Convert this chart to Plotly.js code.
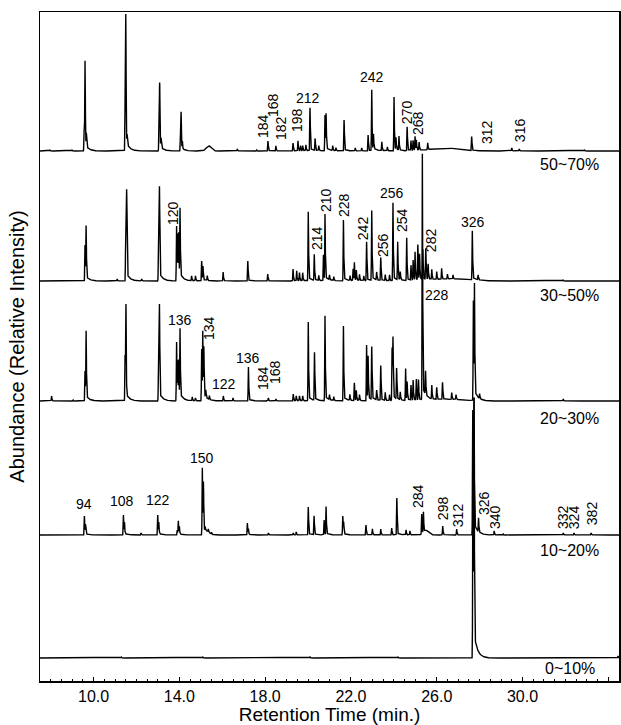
<!DOCTYPE html>
<html><head><meta charset="utf-8">
<script src="https://cdn.plot.ly/plotly-3.0.1.min.js"></script>
<style>html,body{margin:0;padding:0;background:#fff}#chart{width:621px;height:725px}</style>
</head><body><div id="chart"></div>
<script>
// ---- Peak data (retention time, min / relative intensity) ----
// Trace 1 (top)
const p1Time = [7.97, 9.0, 9.56, 9.6, 9.66, 11.47, 11.5, 11.56, 13.05, 13.08, 13.14, 14.05, 14.08, 14.14, 16.7, 17.6, 18.13, 18.5, 19.3, 19.53, 19.65, 19.75, 19.9, 20.09, 20.33, 20.5, 20.79, 20.84, 21.15, 21.3, 21.68, 22.2, 22.5, 22.8, 22.97, 23.05, 23.44, 23.7, 24.01, 24.1, 24.24, 24.62, 24.8, 24.9, 24.99, 25.05, 25.18, 25.58, 27.63, 29.5, 29.85, 32.9];
const p1Height = [1, 1, 20, 89, 14, 49, 130, 10, 25, 65, 10, 15, 37, 8, 2, 1, 10, 5, 8, 10, 5, 5, 6, 43, 12, 5, 36, 36, 5, 3, 31, 3, 3, 16, 61, 15, 9, 4, 54, 12, 14, 24, 10, 10, 14, 10, 8, 7, 14, 3, 2, 1];
const p1HumpTime = [15.38, 26.4];
const p1HumpHeight = [5, 3];
const p1HumpWidth = [0.12, 0.6];
// Trace 2 (50~70%)
const p2Time = [9.6, 9.65, 11.1, 11.5, 11.54, 12.24, 13.03, 13.07, 13.87, 13.92, 13.97, 14.03, 14.57, 14.75, 15.04, 15.1, 15.3, 16.04, 17.19, 18.12, 19.3, 19.47, 19.6, 19.75, 20.01, 20.29, 20.5, 20.72, 20.79, 21.0, 21.2, 21.65, 21.96, 22.1, 22.16, 22.25, 22.4, 22.6, 22.73, 22.97, 23.2, 23.39, 23.6, 23.8, 23.96, 24.18, 24.3, 24.6, 24.8, 24.9, 24.99, 25.12, 25.2, 25.35, 25.49, 25.6, 25.77, 26.0, 26.23, 26.5, 26.76, 27.66, 27.93, 31.9];
const p2Height = [36, 54, 2, 60, 88, 2, 60, 91, 55, 45, 45, 69, 5, 5, 20, 14, 5, 9, 20, 7, 12, 10, 8, 8, 69, 26, 5, 26, 66, 5, 4, 61, 5, 12, 18, 10, 6, 5, 39, 70, 8, 23, 6, 6, 78, 38, 8, 43, 15, 20, 28, 35, 25, 30, 31, 15, 10, 8, 11, 5, 4, 49, 5, 1];
const p2HumpTime = [26.8];
const p2HumpHeight = [2];
const p2HumpWidth = [0.8];
// Trace 3 (30~50%)
const p3Time = [8.04, 9.04, 9.6, 9.65, 11.47, 11.51, 13.03, 13.07, 13.87, 13.92, 13.97, 14.03, 14.6, 14.75, 15.04, 15.09, 15.14, 15.23, 15.4, 16.05, 16.5, 17.22, 18.15, 18.5, 19.31, 19.45, 19.6, 19.75, 20.01, 20.3, 20.79, 21.0, 21.2, 21.65, 21.95, 22.16, 22.25, 22.4, 22.73, 22.8, 22.97, 23.2, 23.39, 23.6, 23.8, 23.92, 23.96, 24.13, 24.3, 24.55, 24.62, 24.8, 24.9, 25.05, 25.15, 25.33, 25.48, 25.77, 26.0, 26.27, 26.7, 26.9, 27.71, 27.76, 28.0, 31.9];
const p3Height = [5, 1, 30, 69, 50, 94, 50, 94, 59, 38, 38, 69, 4, 3, 52, 68, 50, 7, 4, 5, 3, 34, 3, 2, 7, 5, 5, 5, 79, 48, 85, 5, 4, 75, 6, 18, 10, 6, 56, 43, 53, 10, 35, 8, 6, 53, 61, 31, 8, 32, 18, 15, 20, 21, 20, 246, 24, 14, 12, 17, 7, 5, 100, 113, 5, 2];
const p3HumpTime = [26.5];
const p3HumpHeight = [1.5];
const p3HumpWidth = [0.8];
// Trace 4 (20~30%)
const p4Time = [9.57, 9.62, 11.39, 11.44, 12.21, 12.99, 13.04, 13.9, 13.95, 14.0, 15.07, 15.12, 15.2, 15.35, 15.5, 17.17, 17.22, 18.15, 19.31, 19.45, 20.01, 20.28, 20.75, 20.84, 21.62, 21.66, 22.7, 23.0, 23.39, 23.9, 24.14, 24.57, 24.75, 25.3, 25.38, 26.28, 26.93, 27.68, 27.74, 27.95, 28.68, 29.1, 31.9, 32.4, 33.2];
const p4Height = [19, 10, 20, 12, 2, 20, 12, 5, 14, 8, 67, 50, 4, 3, 2, 12, 6, 2, 2, 3, 28, 19, 15, 28, 19, 12, 10, 6, 6, 7, 37, 5, 4, 20, 20, 9, 6, 125, 132, 14, 4, 1, 2, 2, 2];
const p4HumpTime = [25.5, 15.3];
const p4HumpHeight = [4, 2];
const p4HumpWidth = [0.12, 0.1];
// Trace 5 (10~20%)
const p5Time = [11.3, 15.1, 20.1, 24.2, 27.69, 27.74, 34.45];
const p5Height = [1, 1, 1, 1, 240, 250, 2];
const p5HumpTime = [];
const p5HumpHeight = [];
const p5HumpWidth = [];

// Fraction labels
const fractionLabels = ['50~70%', '30~50%', '20~30%', '10~20%', '0~10%'];
// Peak (m/z) labels
const peakLabelText = ['184','168','182','198','212','242','270','268','312','316',
  '120','214','210','228','242','256','256','254','282','326',
  '136','134','122','136','184','168','228',
  '94','108','122','150','284','298','312','326','340','332','324','382'];
const peakLabelTime = [17.9,18.37,18.74,19.49,20.0,22.99,24.62,25.13,28.35,29.89,
  13.7,20.42,20.84,21.68,22.57,23.5,23.92,24.38,25.74,27.7,
  14.03,15.38,16.08,17.2,17.9,18.46,26.0,
  9.55,11.32,13.0,15.06,25.13,26.3,27.0,28.21,28.72,31.89,32.41,33.25];
const peakLabelLevel = [555,576,553,561,583,604,569,558,549,551,
  468,443,481,476,453,436,488,461,441,459,
  361,353,297,323,303,309,386,
  177,180,181,223,185,173,166,178,164,164,164,168];
const peakLabelVertical = [1,1,1,1,0,0,1,1,1,1,
  1,1,1,1,1,1,0,1,1,0,
  0,1,0,0,1,1,0,
  0,0,0,0,1,1,1,1,1,1,1,1];

// ---- layout constants (stack offsets, not data) ----
const offsets = [530, 400, 280, 146, 23];
const fractionLabelLevel = [517, 386, 263, 131, 13];
const FONT = 'Liberation Sans, Arial, sans-serif';
const X0 = 7.5, X1 = 34.5;

function buildTrace(times, heights, hT, hH, hW, base) {
  const step = 0.005;
  const xsSet = [];
  for (let t = X0; t <= X1 + 1e-9; t += step) xsSet.push(+t.toFixed(4));
  times.forEach(t => xsSet.push(t));
  xsSet.sort((a, b) => a - b);
  const ys = new Array(xsSet.length).fill(base);
  for (let k = 0; k < times.length; k++) {
    const t0 = times[k], h = heights[k];
    for (let i = 0; i < xsSet.length; i++) {
      const dt = xsSet[i] - t0;
      if (dt < -0.08 || dt > 1.2) continue;
      let v;
      if (dt < 0) v = h * Math.exp(-0.5 * (dt / 0.012) ** 2);
      else v = h * (0.94 * Math.exp(-0.5 * (dt / 0.014) ** 2) + 0.06 * Math.exp(-dt / 0.15));
      ys[i] += v;
    }
  }
  for (let k = 0; k < hT.length; k++) {
    for (let i = 0; i < xsSet.length; i++) {
      const dt = xsSet[i] - hT[k];
      ys[i] += hH[k] * Math.exp(-0.5 * (dt / hW[k]) ** 2);
    }
  }
  return {x: xsSet, y: ys, type: 'scatter', mode: 'lines', hoverinfo: 'skip',
    line: {color: '#000', width: 1.4}, showlegend: false};
}

const traces = [
  buildTrace(p1Time, p1Height, p1HumpTime, p1HumpHeight, p1HumpWidth, offsets[0]),
  buildTrace(p2Time, p2Height, p2HumpTime, p2HumpHeight, p2HumpWidth, offsets[1]),
  buildTrace(p3Time, p3Height, p3HumpTime, p3HumpHeight, p3HumpWidth, offsets[2]),
  buildTrace(p4Time, p4Height, p4HumpTime, p4HumpHeight, p4HumpWidth, offsets[3]),
  buildTrace(p5Time, p5Height, p5HumpTime, p5HumpHeight, p5HumpWidth, offsets[4])
];

const annotations = [];
fractionLabels.forEach((s, i) => annotations.push({
  x: 32.2, y: fractionLabelLevel[i], xref: 'x', yref: 'y', text: s, showarrow: false,
  font: {family: FONT, size: 16, color: '#000'}
}));
peakLabelText.forEach((s, i) => annotations.push({
  x: peakLabelTime[i], y: peakLabelLevel[i], xref: 'x', yref: 'y', text: s, showarrow: false,
  textangle: peakLabelVertical[i] ? -90 : 0,
  font: {family: FONT, size: 14, color: '#000'}
}));

const layout = {
  width: 621, height: 725,
  margin: {l: 40, r: 2, t: 12, b: 44},
  paper_bgcolor: '#fff', plot_bgcolor: '#fff',
  font: {family: FONT, color: '#000'},
  xaxis: {
    range: [X0, X1], tick0: 10, dtick: 4, tickformat: '.1f',
    ticks: 'inside', ticklen: 4, tickwidth: 1, tickcolor: '#000',
    minor: {dtick: 0.5, ticks: 'inside', ticklen: 2, tickcolor: '#000', showgrid: false},
    showline: true, mirror: true, linecolor: '#000', linewidth: 1.5,
    showgrid: false, zeroline: false,
    tickfont: {family: FONT, size: 16, color: '#000'},
    title: {text: 'Retention Time (min.)', font: {family: FONT, size: 19, color: '#000'}, standoff: 2},
    automargin: false
  },
  yaxis: {
    range: [0, 669], showticklabels: false, ticks: '',
    showline: true, mirror: true, linecolor: '#000', linewidth: 1.5,
    showgrid: false, zeroline: false,
    title: {text: 'Abundance (Relative Intensity)', font: {family: FONT, size: 20, color: '#000'}, standoff: 8},
    automargin: false
  },
  annotations: annotations
};

Plotly.newPlot('chart', traces, layout, {staticPlot: true, displayModeBar: false});
</script>
</body></html>
